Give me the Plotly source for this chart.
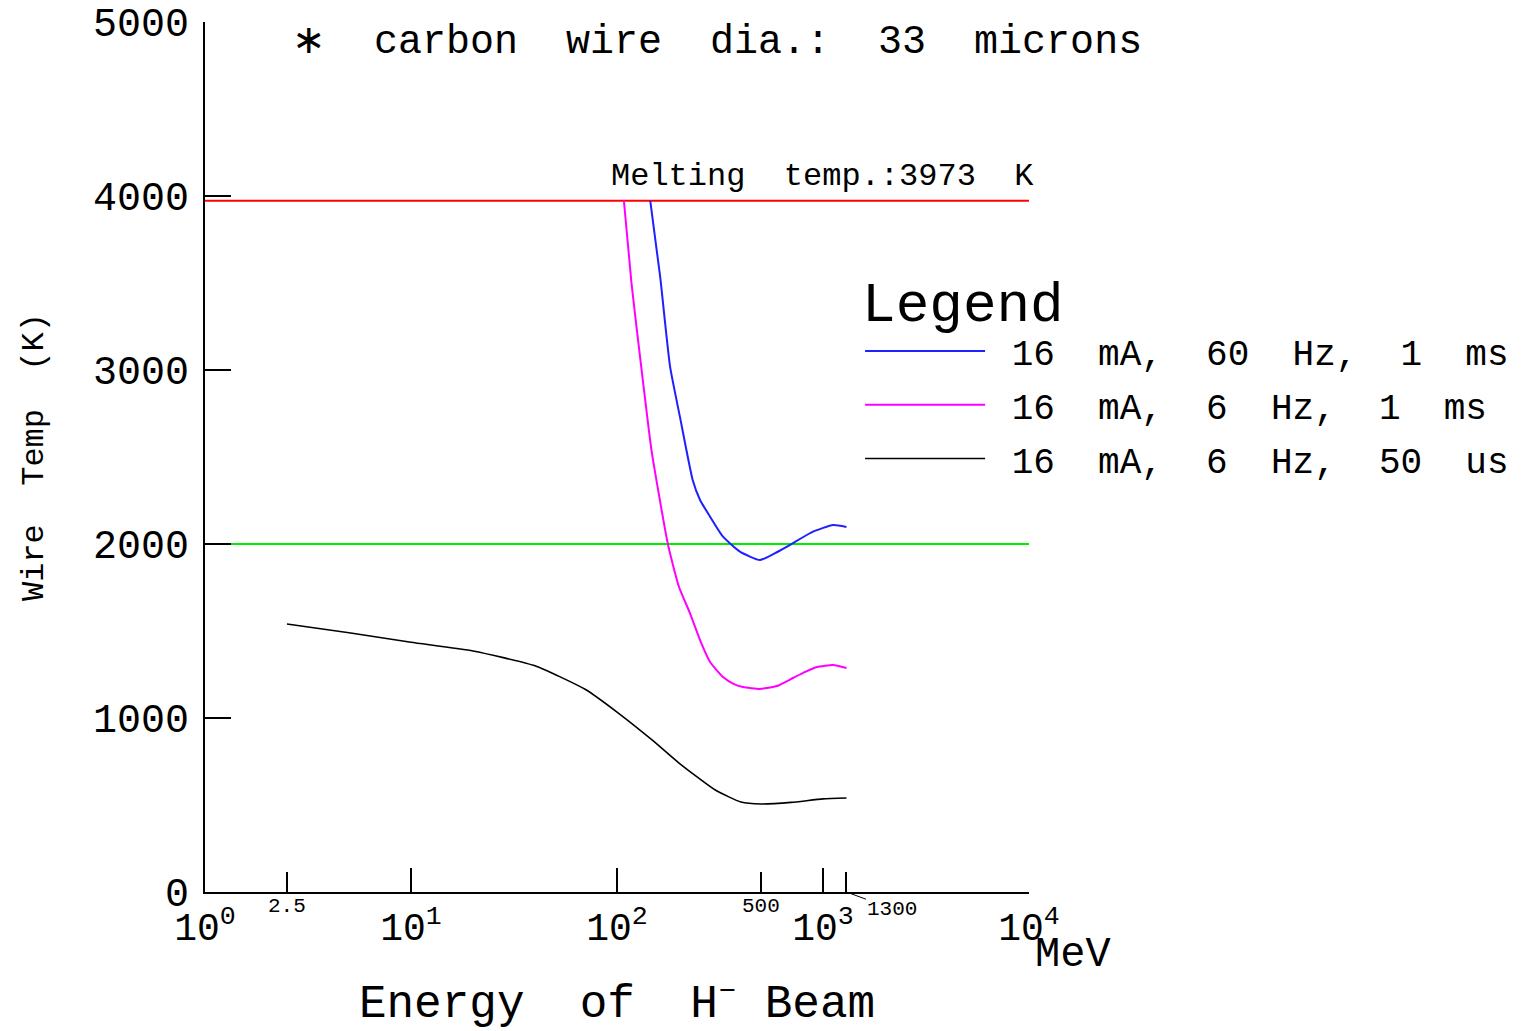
import math
import plotly.graph_objects as go

# ---------------- data ----------------
blue_E = [145, 162, 181, 202, 233, 253, 283, 327, 395, 494, 580, 669, 894, 1119, 1300]
blue_T = [3973, 3536, 3019, 2732, 2368, 2253, 2157, 2042, 1956, 1908, 1945, 1985, 2071, 2109, 2098]

mag_E = [108, 117.6, 134, 147, 177, 200, 226, 253, 283, 327, 370, 409, 494, 598, 715, 820, 935, 1119, 1300]
mag_T = [3973, 3498, 2925, 2540, 1994, 1753, 1603, 1448, 1322, 1236, 1195, 1178, 1167, 1184, 1230, 1265, 1293, 1305, 1287]

blk_E = [2.5, 5, 10, 20, 40, 70, 100, 150, 200, 300, 400, 500, 700, 1000, 1300]
blk_T = [1540, 1490, 1435, 1385, 1300, 1165, 1034, 868, 741, 586, 517, 506, 515, 535, 540]

series_names = ["\u00a016\u00a0 mA,\u00a0 60\u00a0 Hz,\u00a0 1\u00a0 ms",
                "\u00a016\u00a0 mA,\u00a0 6\u00a0 Hz,\u00a0 1\u00a0 ms",
                "\u00a016\u00a0 mA,\u00a0 6\u00a0 Hz,\u00a0 50\u00a0 us"]
series_colors = ["#1f1fff", "#ff00ff", "#000000"]

MELT_T = 3973
REF_T = 2000
E_RANGE = [1, 10000]

x_major = [1, 10, 100, 1000, 10000]
x_major_text = ["10<sup>0</sup>", "10<sup>1</sup>", "10<sup>2</sup>", "10<sup>3</sup>", "10<sup>4</sup>"]
x_minor = [2.5, 500, 1300]
x_minor_text = ["2.5", "500", "1300"]
y_ticks = [0, 1000, 2000, 3000, 4000, 5000]

FONT = "Liberation Mono"

fig = go.Figure()

# reference lines
fig.add_trace(go.Scatter(x=E_RANGE, y=[MELT_T, MELT_T], mode="lines",
                         line=dict(color="#ff0000", width=2), showlegend=False, hoverinfo="skip"))
fig.add_trace(go.Scatter(x=E_RANGE, y=[REF_T, REF_T], mode="lines",
                         line=dict(color="#00ee00", width=2), showlegend=False, hoverinfo="skip"))

for i, (E, T, w) in enumerate([(blue_E, blue_T, 2), (mag_E, mag_T, 2), (blk_E, blk_T, 1.6)]):
    fig.add_trace(go.Scatter(x=E, y=T, mode="lines", name=series_names[i],
                             legendgroup="g%d" % i,
                             line=dict(color=series_colors[i], width=w, shape="spline", smoothing=0.5)))

annotations = []
# title
annotations.append(dict(text="\u2217\u00a0 carbon\u00a0 wire\u00a0 dia.:\u00a0 33\u00a0 microns",
                        xref="paper", yref="paper", x=0.621, y=0.977,
                        xanchor="center", yanchor="middle", showarrow=False,
                        font=dict(family=FONT, size=40, color="black")))
# melting label
annotations.append(dict(text="Melting\u00a0 temp.:3973\u00a0 K",
                        xref="paper", yref="y", x=0.749, y=MELT_T,
                        xanchor="center", yanchor="bottom", yshift=4, showarrow=False,
                        font=dict(family=FONT, size=32, color="black")))
# small tick labels
for v, t in zip(x_minor, x_minor_text):
    if v == 1300:
        annotations.append(dict(text=t, xref="x", yref="y", x=math.log10(v), y=0,
                                showarrow=True, arrowhead=0, arrowwidth=1, arrowcolor="black",
                                ax=46, ay=17, font=dict(family=FONT, size=21, color="black")))
    else:
        annotations.append(dict(text=t, xref="x", yref="y", x=math.log10(v), y=0,
                                xanchor="center", yanchor="top", yshift=-1, showarrow=False,
                                font=dict(family=FONT, size=21, color="black")))
# unit
annotations.append(dict(text="MeV", xref="paper", yref="paper", x=1.005, y=-0.042,
                        xanchor="left", yanchor="top", showarrow=False,
                        font=dict(family=FONT, size=42, color="black")))

fig.update_layout(
    width=1522, height=1031,
    margin=dict(l=205, r=493, t=22, b=139, autoexpand=False),
    paper_bgcolor="white", plot_bgcolor="white",
    font=dict(family=FONT, color="black"),
    annotations=annotations,
    legend=dict(x=0.795, y=0.740, xanchor="left", yanchor="top",
                bgcolor="rgba(0,0,0,0)",
                title=dict(text="Legend", font=dict(family=FONT, size=56, color="black")),
                font=dict(family=FONT, size=36, color="black"),
                itemwidth=120, tracegroupgap=4),
    xaxis=dict(type="log", range=[0, 4], showgrid=False, zeroline=False, automargin=False,
               showline=True, linecolor="black", linewidth=2,
               ticks="inside", ticklen=24, tickwidth=2, tickcolor="black",
               tickmode="array", tickvals=x_major, ticktext=x_major_text,
               tickfont=dict(family=FONT, size=38, color="black"),
               minor=dict(ticks="inside", tickvals=x_minor, ticklen=20, tickwidth=2, tickcolor="black"),
               title=dict(text="Energy\u00a0 of\u00a0 H<sup>\u2013</sup> Beam",
                          font=dict(family=FONT, size=46, color="black"), standoff=38)),
    yaxis=dict(range=[0, 5000], showgrid=False, zeroline=False, automargin=False,
               showline=True, linecolor="black", linewidth=2,
               ticks="inside", ticklen=26, tickwidth=2, tickcolor="black",
               tickmode="array", tickvals=y_ticks,
               tickfont=dict(family=FONT, size=40, color="black"),
               ticklabelstandoff=6,
               title=dict(text="Wire\u00a0 Temp\u00a0 (K)",
                          font=dict(family=FONT, size=32, color="black"), standoff=40)),
)

fig.write_html("out.html")
